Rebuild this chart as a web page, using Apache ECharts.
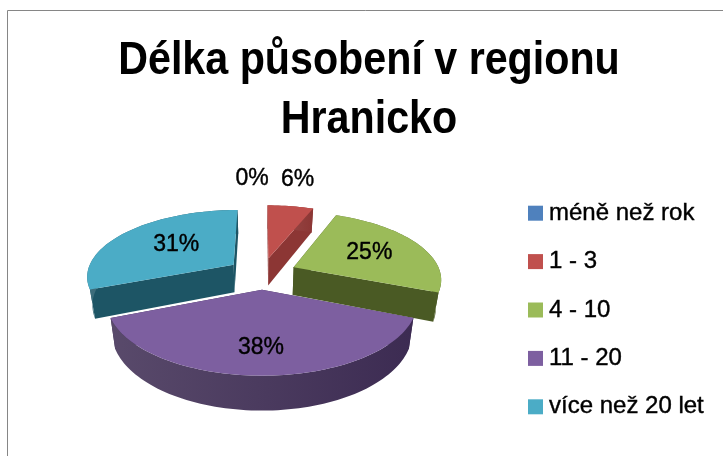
<!DOCTYPE html>
<html>
<head>
<meta charset="utf-8">
<script src="https://cdn.jsdelivr.net/npm/echarts@6/dist/echarts.min.js"></script>
<style>
  html, body { margin: 0; padding: 0; background: #fff; }
  #chart { width: 723px; height: 456px; }
</style>
</head>
<body>
<div id="chart"></div>
<script>
const titleText = 'Délka působení v regionu\nHranicko';
const categories = ['méně než rok', '1 - 3', '4 - 10', '11 - 20', 'více než 20 let'];
const shares = [0, 6, 25, 38, 31];

const topColors = ['#4F81BD', '#C0504D', '#9BBB59', '#7D5FA0', '#4BACC6'];
const wallColors = ['#2c4a6e', '#8C3634', '#4A5A24', '#3C2B52', '#1D5565'];
// painter's order, back to front
const drawOrder = [0, 1, 4, 2, 3];
// label distance from slice apex, as a fraction of the radius
const labelRadius = [1.62, 1.62, 0.6, 0.71, 0.6];
const labelNudge = [-10, -4, 0, -1, 9];

// fake 3D pie: ground plane seen in perspective
const vx = 262, vy = 273.5, tilt = 0.45, focal = 918;
const radius = 147, explode = 35, depth = 28;
const FONT = '"Liberation Sans", sans-serif';

function project(X, Z, h) {
  let w = 1 / (1 - Z / focal);
  // verticals converge a little towards the bottom
  let narrow = 1 - 0.03 * h / depth;
  return [vx + X * w * narrow, vy + (Z * tilt + h) * w];
}

function cumBefore(i) {
  let s = 0;
  for (let k = 0; k < i; k++) s += shares[k];
  return s;
}

function renderSlice(i, params, api) {
  let value = api.value(0);
  let a0 = cumBefore(i) / 100 * Math.PI * 2;
  let a1 = a0 + value / 100 * Math.PI * 2;
  let mid = (a0 + a1) / 2;
  let ex = explode * Math.sin(mid);
  let ez = -explode * Math.cos(mid);
  let children = [];

  let rim = (a, h) => project(ex + radius * Math.sin(a), ez - radius * Math.cos(a), h);
  let apex = (h) => project(ex, ez, h);

  if (value > 0) {
    let topArc = [], lowArc = [];
    let steps = Math.max(4, Math.round((a1 - a0) / 0.03));
    for (let s = 0; s <= steps; s++) {
      let a = a0 + (a1 - a0) * s / steps;
      topArc.push(rim(a, 0));
      lowArc.push(rim(a, depth));
    }
    let wall = new echarts.graphic.LinearGradient(0, 0, 1, 0, [
      { offset: 0, color: echarts.color.lift(wallColors[i], 0.15) },
      { offset: 1, color: wallColors[i] }
    ]);
    // cut faces
    children.push({ type: 'polygon', shape: { points: [apex(0), rim(a0, 0), rim(a0, depth), apex(depth)] }, style: { fill: wallColors[i] } });
    children.push({ type: 'polygon', shape: { points: [apex(0), rim(a1, 0), rim(a1, depth), apex(depth)] }, style: { fill: wallColors[i] } });
    // outer wall
    children.push({ type: 'polygon', shape: { points: topArc.concat(lowArc.slice().reverse()) }, style: { fill: wall } });
    // top surface
    children.push({ type: 'polygon', shape: { points: [apex(0)].concat(topArc) }, style: { fill: topColors[i] } });
  }

  let lr = labelRadius[i] * radius;
  let lp = project(ex + lr * Math.sin(mid), ez - lr * Math.cos(mid), 0);
  children.push({
    type: 'text',
    style: {
      x: lp[0] + labelNudge[i], y: lp[1],
      text: value + '%',
      fill: '#000',
      stroke: '#000',
      lineWidth: 0.4,
      font: '23px ' + FONT,
      align: 'center',
      verticalAlign: 'middle'
    }
  });
  return { type: 'group', children: children };
}

const chart = echarts.init(document.getElementById('chart'));

const series = drawOrder.map((i) => ({
  type: 'custom',
  name: categories[i],
  coordinateSystem: 'none',
  silent: true,
  itemStyle: { color: topColors[i] },
  data: [[shares[i]]],
  renderItem: (params, api) => renderSlice(i, params, api)
}));

chart.setOption({
  animation: false,
  backgroundColor: '#fff',
  legend: {
    orient: 'vertical',
    left: 523,
    top: 196,
    itemWidth: 15,
    itemHeight: 15,
    itemGap: 24,
    icon: 'rect',
    selectedMode: false,
    data: categories,
    textStyle: { fontFamily: FONT, fontSize: 24, color: '#000', textBorderColor: '#000', textBorderWidth: 0.4, padding: [0, 0, 0, 1], lineHeight: 24 }
  },
  graphic: [
    { type: 'line', shape: { x1: 7.5, y1: 10.5, x2: 723, y2: 10.5 }, style: { stroke: '#868686', lineWidth: 1 } },
    { type: 'line', shape: { x1: 7.5, y1: 10.5, x2: 7.5, y2: 456 }, style: { stroke: '#868686', lineWidth: 1 } },
    {
      // the original title is a squeezed bold face, no narrow font here
      type: 'text',
      x: 369,
      y: 32,
      scaleX: 0.896,
      style: { text: titleText, font: 'bold 46px ' + FONT, lineHeight: 59, fill: '#000', align: 'center', verticalAlign: 'top' }
    }
  ],
  series: series
});
</script>
</body>
</html>
